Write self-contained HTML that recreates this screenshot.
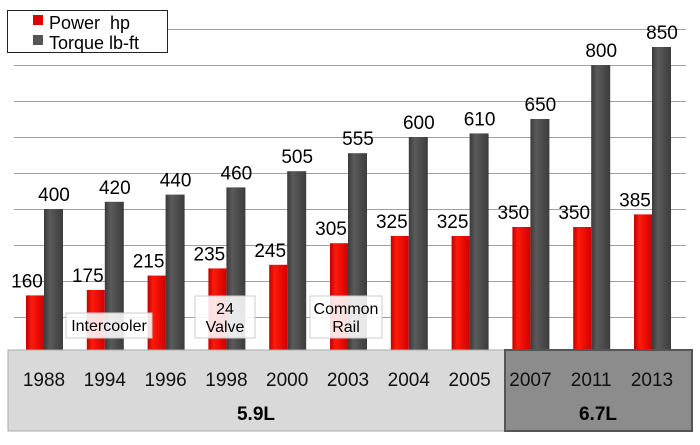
<!DOCTYPE html>
<html><head><style>
body{margin:0;background:#fff;}
svg text{font-family:"Liberation Sans",sans-serif;}
</style></head><body>
<svg width="700" height="440" viewBox="0 0 700 440" xmlns="http://www.w3.org/2000/svg">
<defs>
<linearGradient id="r" x1="0" x2="1"><stop offset="0" stop-color="#c00000"/><stop offset="0.3" stop-color="#ff1a0a"/><stop offset="1" stop-color="#d00000"/></linearGradient>
<linearGradient id="g" x1="0" x2="1"><stop offset="0" stop-color="#3a3a3a"/><stop offset="0.3" stop-color="#5a5a5a"/><stop offset="1" stop-color="#3c3c3c"/></linearGradient>
</defs>
<g stroke="#a0a0a0" stroke-width="1">
<line x1="14" x2="686" y1="29.5" y2="29.5"/><line x1="14" x2="686" y1="65.5" y2="65.5"/><line x1="14" x2="686" y1="101.5" y2="101.5"/><line x1="14" x2="686" y1="137.5" y2="137.5"/><line x1="14" x2="686" y1="173.5" y2="173.5"/><line x1="14" x2="686" y1="209.5" y2="209.5"/><line x1="14" x2="686" y1="245.5" y2="245.5"/><line x1="14" x2="686" y1="281.5" y2="281.5"/><line x1="14" x2="686" y1="317.5" y2="317.5"/>
</g>
<rect x="7.5" y="10.5" width="160" height="42" fill="#fff" stroke="#222"/>
<rect x="33" y="15" width="10" height="10" fill="#e00000"/>
<rect x="33" y="35" width="10" height="10" fill="#555"/>
<text x="49" y="29" font-size="18">Power&#160; hp</text>
<text x="49" y="49" font-size="18">Torque lb-ft</text>
<g id="bars"></g>
<rect x="8" y="350" width="497" height="81" fill="#d9d9d9" stroke="#aaa"/>
<rect x="505" y="350" width="187" height="81" fill="#8c8c8c" stroke="#555" stroke-width="2"/>
<g font-size="19" text-anchor="middle" fill="#111" id="yrs"></g>
<text x="256" y="420" font-size="19" font-weight="bold" text-anchor="middle">5.9L</text>
<text x="598" y="420" font-size="19" font-weight="bold" text-anchor="middle">6.7L</text>
</svg>
<script>
var yrs=[1988,1994,1996,1998,2000,2003,2004,2005,2007,2011,2013];
var p=[160,175,215,235,245,305,325,325,350,350,385];
var t=[400,420,440,460,505,555,600,610,650,800,850];
var ns="http://www.w3.org/2000/svg";
function el(n,a,txt){var e=document.createElementNS(ns,n);for(var k in a)e.setAttribute(k,a[k]);if(txt!=null)e.textContent=txt;return e;}
var bars=document.getElementById('bars'),yg=document.getElementById('yrs');
for(var i=0;i<11;i++){
 var c=44+i*60.8, B=353;
 var hp=p[i]*0.36, ht=t[i]*0.36;
 bars.appendChild(el('rect',{x:c-18,y:B-hp,width:18,height:hp,fill:'url(#r)'}));
 bars.appendChild(el('rect',{x:c,y:B-ht,width:19,height:ht,fill:'url(#g)'}));
 bars.appendChild(el('text',{x:c-17,y:B-hp-8,'font-size':19,'text-anchor':'middle'},p[i]));
 bars.appendChild(el('text',{x:c+10,y:B-ht-8,'font-size':19,'text-anchor':'middle'},t[i]));
 yg.appendChild(el('text',{x:c,y:386},yrs[i]));
}
function box(x,y,w,h,lines){
 bars.appendChild(el('rect',{x:x,y:y,width:w,height:h,fill:'rgba(255,255,255,0.88)',stroke:'#ccc'}));
 lines.forEach(function(l,j){bars.appendChild(el('text',{x:x+w/2,y:y+18+j*18,'font-size':16,'text-anchor':'middle'},l));});
}
box(66,313,86,25,['Intercooler']);
box(195,296,60,42,['24','Valve']);
box(310,296,72,42,['Common','Rail']);
</script>
</body></html>
